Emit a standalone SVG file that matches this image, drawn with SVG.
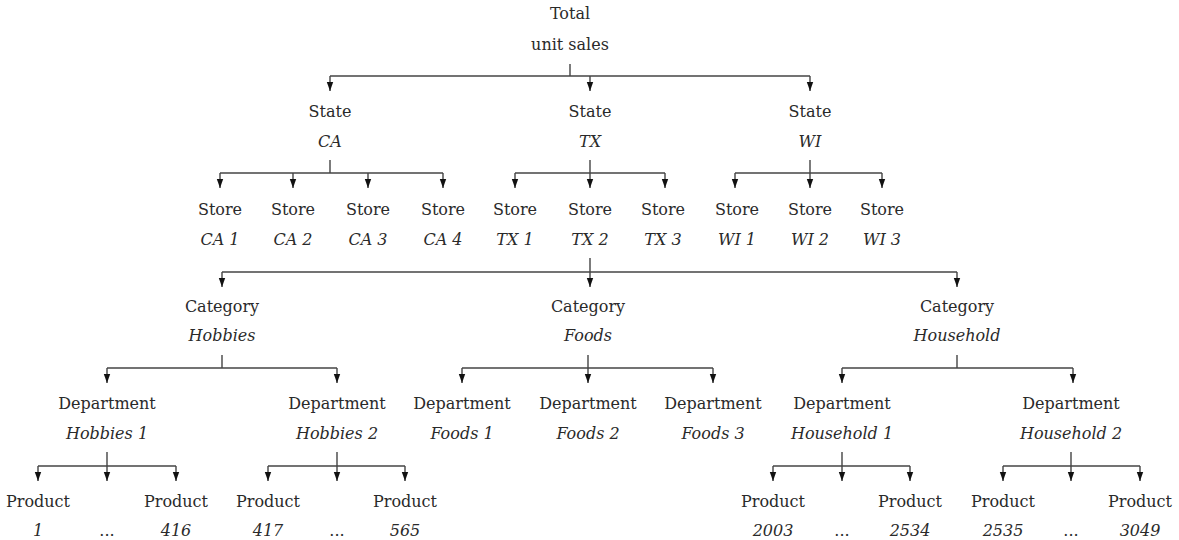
<svg xmlns="http://www.w3.org/2000/svg" width="1179" height="540" viewBox="0 0 1179 540">
<style>
text{font-family:"DejaVu Serif","Liberation Serif",serif;font-size:16px;fill:#2a2a2a;text-anchor:middle}
.i{font-style:italic}
.c line{stroke:#444;stroke-width:1.4;fill:none}
.c .a{marker-end:url(#ah)}
</style>
<defs>
<marker id="ah" viewBox="0 -4 9 8" refX="9" refY="0" markerWidth="9" markerHeight="8" markerUnits="userSpaceOnUse" orient="auto">
<path d="M0,-3.2 L9,0 L0,3.2 z" fill="#111"/>
</marker>
</defs>
<rect width="1179" height="540" fill="#fff"/>
<g id="connectors" class="c">
<!-- level 1 -->
<line x1="570" y1="64" x2="570" y2="76"/>
<line x1="330" y1="76" x2="810" y2="76"/>
<line class="a" x1="330" y1="76" x2="330" y2="91"/>
<line class="a" x1="590" y1="76" x2="590" y2="91"/>
<line class="a" x1="810" y1="76" x2="810" y2="91"/>
<!-- CA -->
<line x1="330" y1="160" x2="330" y2="173"/>
<line x1="220" y1="173" x2="443" y2="173"/>
<line class="a" x1="220" y1="173" x2="220" y2="188"/>
<line class="a" x1="293" y1="173" x2="293" y2="188"/>
<line class="a" x1="368" y1="173" x2="368" y2="188"/>
<line class="a" x1="443" y1="173" x2="443" y2="188"/>
<!-- TX -->
<line x1="590" y1="160" x2="590" y2="173"/>
<line x1="515" y1="173" x2="665" y2="173"/>
<line class="a" x1="515" y1="173" x2="515" y2="188"/>
<line class="a" x1="590" y1="173" x2="590" y2="188"/>
<line class="a" x1="665" y1="173" x2="665" y2="188"/>
<!-- WI -->
<line x1="810" y1="160" x2="810" y2="173"/>
<line x1="735" y1="173" x2="882" y2="173"/>
<line class="a" x1="735" y1="173" x2="735" y2="188"/>
<line class="a" x1="810" y1="173" x2="810" y2="188"/>
<line class="a" x1="882" y1="173" x2="882" y2="188"/>
<!-- TX 2 to categories -->
<line x1="590" y1="258" x2="590" y2="272"/>
<line x1="222" y1="272" x2="957" y2="272"/>
<line class="a" x1="222" y1="272" x2="222" y2="287"/>
<line class="a" x1="590" y1="272" x2="590" y2="287"/>
<line class="a" x1="957" y1="272" x2="957" y2="287"/>
<!-- Hobbies -->
<line x1="222" y1="355" x2="222" y2="368"/>
<line x1="107" y1="368" x2="337" y2="368"/>
<line class="a" x1="107" y1="368" x2="107" y2="383"/>
<line class="a" x1="337" y1="368" x2="337" y2="383"/>
<!-- Foods -->
<line x1="588" y1="355" x2="588" y2="368"/>
<line x1="462" y1="368" x2="713" y2="368"/>
<line class="a" x1="462" y1="368" x2="462" y2="383"/>
<line class="a" x1="588" y1="368" x2="588" y2="383"/>
<line class="a" x1="713" y1="368" x2="713" y2="383"/>
<!-- Household -->
<line x1="957" y1="355" x2="957" y2="368"/>
<line x1="842" y1="368" x2="1073" y2="368"/>
<line class="a" x1="842" y1="368" x2="842" y2="383"/>
<line class="a" x1="1073" y1="368" x2="1073" y2="383"/>
<!-- Hobbies 1 -->
<line x1="107" y1="452" x2="107" y2="466"/>
<line x1="38" y1="466" x2="176" y2="466"/>
<line class="a" x1="38" y1="466" x2="38" y2="481"/>
<line class="a" x1="107" y1="466" x2="107" y2="481"/>
<line class="a" x1="176" y1="466" x2="176" y2="481"/>
<!-- Hobbies 2 -->
<line x1="337" y1="452" x2="337" y2="466"/>
<line x1="268" y1="466" x2="405" y2="466"/>
<line class="a" x1="268" y1="466" x2="268" y2="481"/>
<line class="a" x1="337" y1="466" x2="337" y2="481"/>
<line class="a" x1="405" y1="466" x2="405" y2="481"/>
<!-- Household 1 -->
<line x1="842" y1="452" x2="842" y2="466"/>
<line x1="773" y1="466" x2="910" y2="466"/>
<line class="a" x1="773" y1="466" x2="773" y2="481"/>
<line class="a" x1="842" y1="466" x2="842" y2="481"/>
<line class="a" x1="910" y1="466" x2="910" y2="481"/>
<!-- Household 2 -->
<line x1="1071" y1="452" x2="1071" y2="466"/>
<line x1="1003" y1="466" x2="1140" y2="466"/>
<line class="a" x1="1003" y1="466" x2="1003" y2="481"/>
<line class="a" x1="1071" y1="466" x2="1071" y2="481"/>
<line class="a" x1="1140" y1="466" x2="1140" y2="481"/>
</g>
<g id="total"><text x="570" y="19">Total</text><text x="570" y="50">unit sales</text></g>
<g id="state-ca"><text x="330" y="117">State</text><text class="i" x="330" y="147">CA</text></g>
<g id="state-tx"><text x="590" y="117">State</text><text class="i" x="590" y="147">TX</text></g>
<g id="state-wi"><text x="810" y="117">State</text><text class="i" x="810" y="147">WI</text></g>
<g id="store-ca1"><text x="220" y="215">Store</text><text class="i" x="220" y="245">CA 1</text></g>
<g id="store-ca2"><text x="293" y="215">Store</text><text class="i" x="293" y="245">CA 2</text></g>
<g id="store-ca3"><text x="368" y="215">Store</text><text class="i" x="368" y="245">CA 3</text></g>
<g id="store-ca4"><text x="443" y="215">Store</text><text class="i" x="443" y="245">CA 4</text></g>
<g id="store-tx1"><text x="515" y="215">Store</text><text class="i" x="515" y="245">TX 1</text></g>
<g id="store-tx2"><text x="590" y="215">Store</text><text class="i" x="590" y="245">TX 2</text></g>
<g id="store-tx3"><text x="663" y="215">Store</text><text class="i" x="663" y="245">TX 3</text></g>
<g id="store-wi1"><text x="737" y="215">Store</text><text class="i" x="737" y="245">WI 1</text></g>
<g id="store-wi2"><text x="810" y="215">Store</text><text class="i" x="810" y="245">WI 2</text></g>
<g id="store-wi3"><text x="882" y="215">Store</text><text class="i" x="882" y="245">WI 3</text></g>
<g id="cat-hobbies"><text x="222" y="312">Category</text><text class="i" x="222" y="341">Hobbies</text></g>
<g id="cat-foods"><text x="588" y="312">Category</text><text class="i" x="588" y="341">Foods</text></g>
<g id="cat-household"><text x="957" y="312">Category</text><text class="i" x="957" y="341">Household</text></g>
<g id="dept-hobbies1"><text x="107" y="409">Department</text><text class="i" x="107" y="439">Hobbies 1</text></g>
<g id="dept-hobbies2"><text x="337" y="409">Department</text><text class="i" x="337" y="439">Hobbies 2</text></g>
<g id="dept-foods1"><text x="462" y="409">Department</text><text class="i" x="462" y="439">Foods 1</text></g>
<g id="dept-foods2"><text x="588" y="409">Department</text><text class="i" x="588" y="439">Foods 2</text></g>
<g id="dept-foods3"><text x="713" y="409">Department</text><text class="i" x="713" y="439">Foods 3</text></g>
<g id="dept-household1"><text x="842" y="409">Department</text><text class="i" x="842" y="439">Household 1</text></g>
<g id="dept-household2"><text x="1071" y="409">Department</text><text class="i" x="1071" y="439">Household 2</text></g>
<g id="prod-1"><text x="38" y="507">Product</text><text class="i" x="38" y="536">1</text></g>
<g id="prod-dots-1"><text x="107" y="536">...</text></g>
<g id="prod-416"><text x="176" y="507">Product</text><text class="i" x="176" y="536">416</text></g>
<g id="prod-417"><text x="268" y="507">Product</text><text class="i" x="268" y="536">417</text></g>
<g id="prod-dots-2"><text x="337" y="536">...</text></g>
<g id="prod-565"><text x="405" y="507">Product</text><text class="i" x="405" y="536">565</text></g>
<g id="prod-2003"><text x="773" y="507">Product</text><text class="i" x="773" y="536">2003</text></g>
<g id="prod-dots-3"><text x="842" y="536">...</text></g>
<g id="prod-2534"><text x="910" y="507">Product</text><text class="i" x="910" y="536">2534</text></g>
<g id="prod-2535"><text x="1003" y="507">Product</text><text class="i" x="1003" y="536">2535</text></g>
<g id="prod-dots-4"><text x="1071" y="536">...</text></g>
<g id="prod-3049"><text x="1140" y="507">Product</text><text class="i" x="1140" y="536">3049</text></g>
</svg>
